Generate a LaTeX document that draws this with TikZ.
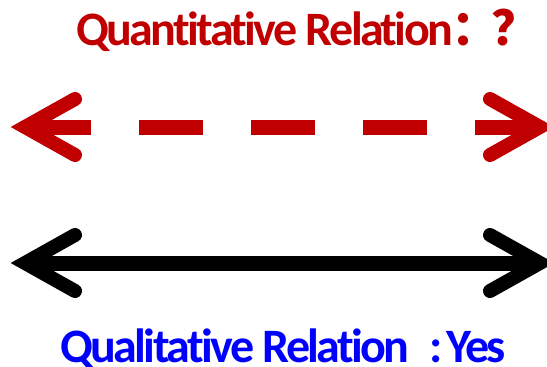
\documentclass[tikz,border=0pt]{standalone}
\usepackage{fontspec}
\setmainfont{Carlito}[Ligatures=NoCommon, LetterSpace=-5.5]
\newfontfamily\cjkfont{Noto Sans CJK SC}
\usetikzlibrary{positioning}
\definecolor{relRed}{RGB}{192,0,0}
\definecolor{relBlue}{RGB}{0,0,255}

\begin{document}
\begin{tikzpicture}[x=1pt, y=-1pt,
    relation/.style={font=\fontsize{48}{48}\selectfont\bfseries,
                     inner sep=0pt, anchor=base west},
    shaft/.style={line width=15pt},
    barb/.style={line width=14pt, line cap=round, line join=miter}
  ]
  \useasboundingbox (0,0) rectangle (547,367);

  % quantitative: unknown, dashed
  \node[relation, text=relRed] (quant) at (76,45)
    {Quantitative Relation\hspace{-1pt}{\cjkfont\bfseries ：\hspace{-8pt}？}};
  \coordinate (qL) at (25,127);
  \coordinate (qR) at (540,127);
  \draw[shaft, relRed, dash pattern=on 64pt off 48pt, dash phase=110pt] (qL) -- (qR);
  \draw[barb, relRed] (qL) ++(50,-28) -- (qL) -- ++(50,28);
  \draw[barb, relRed] (qR) ++(-50,-28) -- (qR) -- ++(-50,28);

  % qualitative: yes, solid
  \coordinate (lL) at (25,263);
  \coordinate (lR) at (540,263);
  \draw[shaft, black] (lL) -- (lR);
  \draw[barb, black] (lL) ++(50,-28) -- (lL) -- ++(50,28);
  \draw[barb, black] (lR) ++(-50,-28) -- (lR) -- ++(-50,28);
  \node[relation, text=relBlue] (qual) at (60,362)
    {Qualitative Relation\hspace{20pt}:\hspace{4pt}Yes};
\end{tikzpicture}
\end{document}
